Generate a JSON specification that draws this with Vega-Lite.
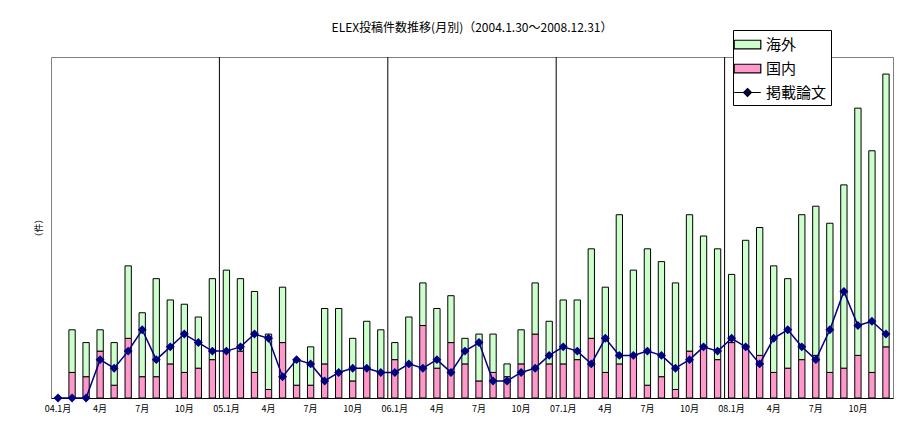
{
  "$schema": "https://vega.github.io/schema/vega-lite/v6.json",
  "width": 842,
  "height": 341,
  "autosize": {"type": "none"},
  "padding": {"left": 51, "top": 57, "right": 15, "bottom": 27},
  "background": "white",
  "config": {"font": "Noto Sans CJK JP", "view": {"stroke": "#808080", "strokeWidth": 1}},
  "title": {"text": "ELEX投稿件数推移(月別)（2004.1.30～2008.12.31）", "fontSize": 12, "fontWeight": "normal", "color": "black", "anchor": "middle", "offset": 0, "dy": 5},
  "data": {"values": [
    {"m": "2004-01", "国内": 0, "海外": 0, "掲載論文": 0},
    {"m": "2004-02", "国内": 6, "海外": 10, "掲載論文": 0},
    {"m": "2004-03", "国内": 5, "海外": 8, "掲載論文": 0},
    {"m": "2004-04", "国内": 11, "海外": 5, "掲載論文": 9},
    {"m": "2004-05", "国内": 3, "海外": 10, "掲載論文": 7},
    {"m": "2004-06", "国内": 14, "海外": 17, "掲載論文": 11},
    {"m": "2004-07", "国内": 5, "海外": 15, "掲載論文": 16},
    {"m": "2004-08", "国内": 5, "海外": 23, "掲載論文": 9},
    {"m": "2004-09", "国内": 8, "海外": 15, "掲載論文": 12},
    {"m": "2004-10", "国内": 6, "海外": 16, "掲載論文": 15},
    {"m": "2004-11", "国内": 7, "海外": 12, "掲載論文": 13},
    {"m": "2004-12", "国内": 9, "海外": 19, "掲載論文": 11},
    {"m": "2005-01", "国内": 11, "海外": 19, "掲載論文": 11},
    {"m": "2005-02", "国内": 11, "海外": 17, "掲載論文": 12},
    {"m": "2005-03", "国内": 6, "海外": 19, "掲載論文": 15},
    {"m": "2005-04", "国内": 2, "海外": 13, "掲載論文": 14},
    {"m": "2005-05", "国内": 13, "海外": 13, "掲載論文": 5},
    {"m": "2005-06", "国内": 3, "海外": 6, "掲載論文": 9},
    {"m": "2005-07", "国内": 3, "海外": 9, "掲載論文": 8},
    {"m": "2005-08", "国内": 8, "海外": 13, "掲載論文": 4},
    {"m": "2005-09", "国内": 6, "海外": 15, "掲載論文": 6},
    {"m": "2005-10", "国内": 4, "海外": 10, "掲載論文": 7},
    {"m": "2005-11", "国内": 7, "海外": 11, "掲載論文": 7},
    {"m": "2005-12", "国内": 6, "海外": 10, "掲載論文": 6},
    {"m": "2006-01", "国内": 9, "海外": 4, "掲載論文": 6},
    {"m": "2006-02", "国内": 8, "海外": 11, "掲載論文": 8},
    {"m": "2006-03", "国内": 17, "海外": 10, "掲載論文": 7},
    {"m": "2006-04", "国内": 7, "海外": 14, "掲載論文": 9},
    {"m": "2006-05", "国内": 13, "海外": 11, "掲載論文": 6},
    {"m": "2006-06", "国内": 8, "海外": 6, "掲載論文": 11},
    {"m": "2006-07", "国内": 4, "海外": 11, "掲載論文": 13},
    {"m": "2006-08", "国内": 6, "海外": 9, "掲載論文": 4},
    {"m": "2006-09", "国内": 5, "海外": 3, "掲載論文": 4},
    {"m": "2006-10", "国内": 8, "海外": 8, "掲載論文": 6},
    {"m": "2006-11", "国内": 15, "海外": 12, "掲載論文": 7},
    {"m": "2006-12", "国内": 8, "海外": 10, "掲載論文": 10},
    {"m": "2007-01", "国内": 8, "海外": 15, "掲載論文": 12},
    {"m": "2007-02", "国内": 9, "海外": 14, "掲載論文": 11},
    {"m": "2007-03", "国内": 14, "海外": 21, "掲載論文": 8},
    {"m": "2007-04", "国内": 6, "海外": 20, "掲載論文": 14},
    {"m": "2007-05", "国内": 8, "海外": 35, "掲載論文": 10},
    {"m": "2007-06", "国内": 10, "海外": 20, "掲載論文": 10},
    {"m": "2007-07", "国内": 3, "海外": 32, "掲載論文": 11},
    {"m": "2007-08", "国内": 5, "海外": 27, "掲載論文": 10},
    {"m": "2007-09", "国内": 2, "海外": 25, "掲載論文": 7},
    {"m": "2007-10", "国内": 11, "海外": 32, "掲載論文": 9},
    {"m": "2007-11", "国内": 12, "海外": 26, "掲載論文": 12},
    {"m": "2007-12", "国内": 9, "海外": 26, "掲載論文": 11},
    {"m": "2008-01", "国内": 13, "海外": 16, "掲載論文": 14},
    {"m": "2008-02", "国内": 12, "海外": 25, "掲載論文": 12},
    {"m": "2008-03", "国内": 10, "海外": 30, "掲載論文": 8},
    {"m": "2008-04", "国内": 6, "海外": 25, "掲載論文": 14},
    {"m": "2008-05", "国内": 7, "海外": 21, "掲載論文": 16},
    {"m": "2008-06", "国内": 9, "海外": 34, "掲載論文": 12},
    {"m": "2008-07", "国内": 10, "海外": 35, "掲載論文": 9},
    {"m": "2008-08", "国内": 6, "海外": 35, "掲載論文": 16},
    {"m": "2008-09", "国内": 7, "海外": 43, "掲載論文": 25},
    {"m": "2008-10", "国内": 10, "海外": 58, "掲載論文": 17},
    {"m": "2008-11", "国内": 6, "海外": 52, "掲載論文": 18},
    {"m": "2008-12", "国内": 12, "海外": 64, "掲載論文": 15}
  ]},
  "encoding": {
    "x": {
      "field": "m", "type": "ordinal",
      "scale": {"type": "band", "paddingInner": 0, "paddingOuter": 0},
      "axis": {
        "title": null, "ticks": false, "labelAngle": 0, "labelFontSize": 9, "labelColor": "black",
        "labelPadding": 6, "domainColor": "black", "labelOverlap": false,
        "labelExpr": "substring(datum.value,5,7)=='01' ? substring(datum.value,2,4)+'.1月' : (indexof(['04','07','10'],substring(datum.value,5,7))>=0 ? toNumber(substring(datum.value,5,7))+'月' : '')"
      }
    }
  },
  "layer": [
    {
      "data": {"values": [{"m": "2005-01"}, {"m": "2006-01"}, {"m": "2007-01"}, {"m": "2008-01"}]},
      "mark": {"type": "rule", "color": "black", "strokeWidth": 1},
      "encoding": {"x": {"field": "m", "type": "ordinal", "bandPosition": 0}}
    },
    {
      "transform": [{"fold": ["国内", "海外"], "as": ["series", "n"]}],
      "mark": {"type": "bar", "width": {"band": 0.45}, "stroke": "black", "strokeWidth": 1},
      "encoding": {
        "y": {
          "field": "n", "type": "quantitative", "stack": "zero",
          "scale": {"domain": [0, 80], "nice": false},
          "axis": {"title": "（件）", "labels": false, "ticks": false, "domain": false, "grid": false,
                   "titleFontSize": 9, "titleFontWeight": "normal", "titleColor": "black", "titlePadding": 8}
        },
        "color": {
          "field": "series", "type": "nominal",
          "scale": {"domain": ["海外", "国内", "掲載論文"], "range": ["#ccffcc", "#ff99cc", "#000080"]},
          "legend": {
            "title": null, "orient": "none", "legendX": 682, "legendY": -27,
            "strokeColor": "black", "fillColor": "white", "padding": 4,
            "labelFontSize": 15, "labelColor": "black", "symbolSize": 361, "labelOffset": 8, "rowPadding": 5,
            "symbolType": {"expr": "datum.value === '掲載論文' ? 'M-1.4,0H1.4M0,-0.42L0.42,0L0,0.42L-0.42,0Z' : 'M-1.4,-0.45H1.4V0.45H-1.4Z'"},
            "symbolStrokeColor": "black",
            "symbolStrokeWidth": 1.2
          }
        },
        "order": {"field": "series", "sort": "ascending"}
      }
    },
    {
      "mark": {"type": "line", "color": "#000080", "strokeWidth": 1.5, "point": {"shape": "diamond", "size": 80, "filled": true, "color": "#000080"}},
      "encoding": {
        "y": {"field": "掲載論文", "type": "quantitative"}
      }
    }
  ]
}
